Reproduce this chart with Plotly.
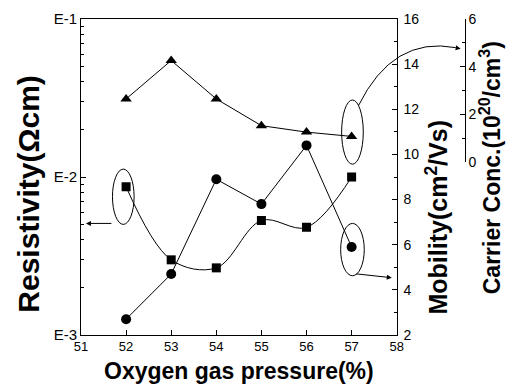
import plotly.graph_objects as go

# ---- data ----
pressure = [52, 53, 54, 55, 56, 57]
resistivity = [8.66e-3, 2.99e-3, 2.66e-3, 5.31e-3, 4.80e-3, 1.0e-2]   # ohm cm (squares)
mobility = [2.7, 4.7, 8.9, 7.8, 10.4, 5.9]                             # cm2/Vs (circles)
carrier = [2.65, 4.26, 2.65, 1.53, 1.26, 1.08]                         # 1e20/cm3 (triangles)

x_ticks = [51, 52, 53, 54, 55, 56, 57, 58]
res_tickvals = [1e-3, 1e-2, 1e-1]
res_ticktext = ["E-3", "E-2", "E-1"]
res_minor = [k * 1e-3 for k in range(2, 10)] + [k * 1e-2 for k in range(2, 10)]

W, H = 516, 392
ML, MR, MT, MB = 81, 10, 15, 57
PW = W - ML - MR
PH = H - MT - MB
FONT = "Liberation Sans, Arial, sans-serif"


def px(xp):
    return (xp - ML) / PW


def py(yp):
    return (H - MB - yp) / PH


XDOM = [0, px(402)]
Y3DOM = [py(160), 1]

fig = go.Figure()
fig.add_trace(go.Scatter(x=pressure, y=resistivity, yaxis="y", mode="lines+markers",
                         line=dict(color="black", width=1, shape="spline", smoothing=1.0),
                         marker=dict(symbol="square", size=9, color="black"), showlegend=False))
fig.add_trace(go.Scatter(x=pressure, y=mobility, yaxis="y2", mode="lines+markers",
                         line=dict(color="black", width=1),
                         marker=dict(symbol="circle", size=10, color="black"), showlegend=False))
fig.add_trace(go.Scatter(x=pressure, y=carrier, yaxis="y3", mode="lines+markers",
                         line=dict(color="black", width=1),
                         marker=dict(symbol="triangle-up", size=10, color="black"), showlegend=False))

axis_common = dict(showgrid=False, zeroline=False, showline=True, linecolor="black",
                   linewidth=1, ticks="inside", tickcolor="black", ticklen=5,
                   tickfont=dict(family=FONT, size=14, color="black"))

fig.update_layout(
    width=W, height=H,
    margin=dict(l=ML, r=MR, t=MT, b=MB),
    paper_bgcolor="white", plot_bgcolor="rgba(0,0,0,0)",
    font=dict(family=FONT, color="black"),
    xaxis=dict(axis_common, domain=XDOM, range=[51, 58], tickvals=x_ticks, mirror=True,
               anchor="y", ticklabelstandoff=-1,
               tickfont=dict(family=FONT, size=13, color="black")),
    yaxis=dict(axis_common, type="log", range=[-3, -1], tickvals=res_tickvals,
               ticktext=res_ticktext, tickfont=dict(family=FONT, size=15, color="black"),
               minor=dict(ticks="inside", ticklen=3, tickcolor="black",
                          tickmode="array", tickvals=res_minor),
               anchor="x"),
    yaxis2=dict(axis_common, range=[2, 16], dtick=2, overlaying="y", side="right",
                anchor="x", ticklabelstandoff=3,
                minor=dict(ticks="inside", ticklen=3, tickcolor="black", dtick=1)),
    yaxis3=dict(axis_common, range=[0, 6], dtick=2, domain=Y3DOM, side="right",
                anchor="free", position=px(471),
                minor=dict(ticks="inside", ticklen=3, tickcolor="black", dtick=1)),
)

fig.add_annotation(text="<b>Oxygen gas pressure(%)</b>", xref="paper", yref="paper",
                   x=px(241.5), y=py(371), showarrow=False,
                   font=dict(family=FONT, size=23, color="black"),
                   xanchor="center", yanchor="middle")
fig.add_annotation(text="<b>Resistivity(Ωcm)</b>", xref="paper", yref="paper",
                   x=px(28), y=py(192), showarrow=False,
                   font=dict(family=FONT, size=30, color="black"), textangle=-90,
                   xanchor="center", yanchor="middle")
fig.add_annotation(text="<b>Mobility(cm<sup>2</sup>/Vs)</b>", xref="paper", yref="paper",
                   x=px(443), y=py(216), showarrow=False,
                   font=dict(family=FONT, size=25, color="black"), textangle=-90,
                   xanchor="center", yanchor="middle")
fig.add_annotation(text="<b>Carrier Conc.(10<sup>20</sup>/cm<sup>3</sup>)</b>", xref="paper",
                   yref="paper", x=px(497), y=py(166), showarrow=False,
                   font=dict(family=FONT, size=23, color="black"), textangle=-90,
                   xanchor="center", yanchor="middle")


# ---- hand-drawn style ellipses and arrows ----
def ellipse(x0p, x1p, y0p, y1p):
    fig.add_shape(type="circle", xref="paper", yref="paper",
                  x0=px(x0p), x1=px(x1p), y0=py(y1p), y1=py(y0p),
                  line=dict(color="black", width=1))


ellipse(113, 135, 167, 223)   # around resistivity point at 52
ellipse(345, 369, 222, 275)   # around mobility point at 57
ellipse(346, 368, 97, 162)    # around carrier point at 57

arrow = dict(xref="paper", yref="paper", axref="pixel", ayref="pixel", showarrow=True,
             arrowhead=2, arrowsize=1, arrowwidth=1, arrowcolor="black", text="")
fig.add_annotation(arrow, x=px(86), y=py(222), ax=27, ay=0)
fig.add_annotation(arrow, x=px(397), y=py(277), ax=-37, ay=-4)


def P(xp, yp):
    return f"{px(xp):.4f},{py(yp):.4f}"


fig.add_shape(type="path", xref="paper", yref="paper",
              path=f"M {P(363,103)} Q {P(398,32)} {P(462,44)}",
              line=dict(color="black", width=1))
fig.add_annotation(arrow, x=px(467), y=py(45), ax=-6, ay=-1)

fig.write_html("out.html")
